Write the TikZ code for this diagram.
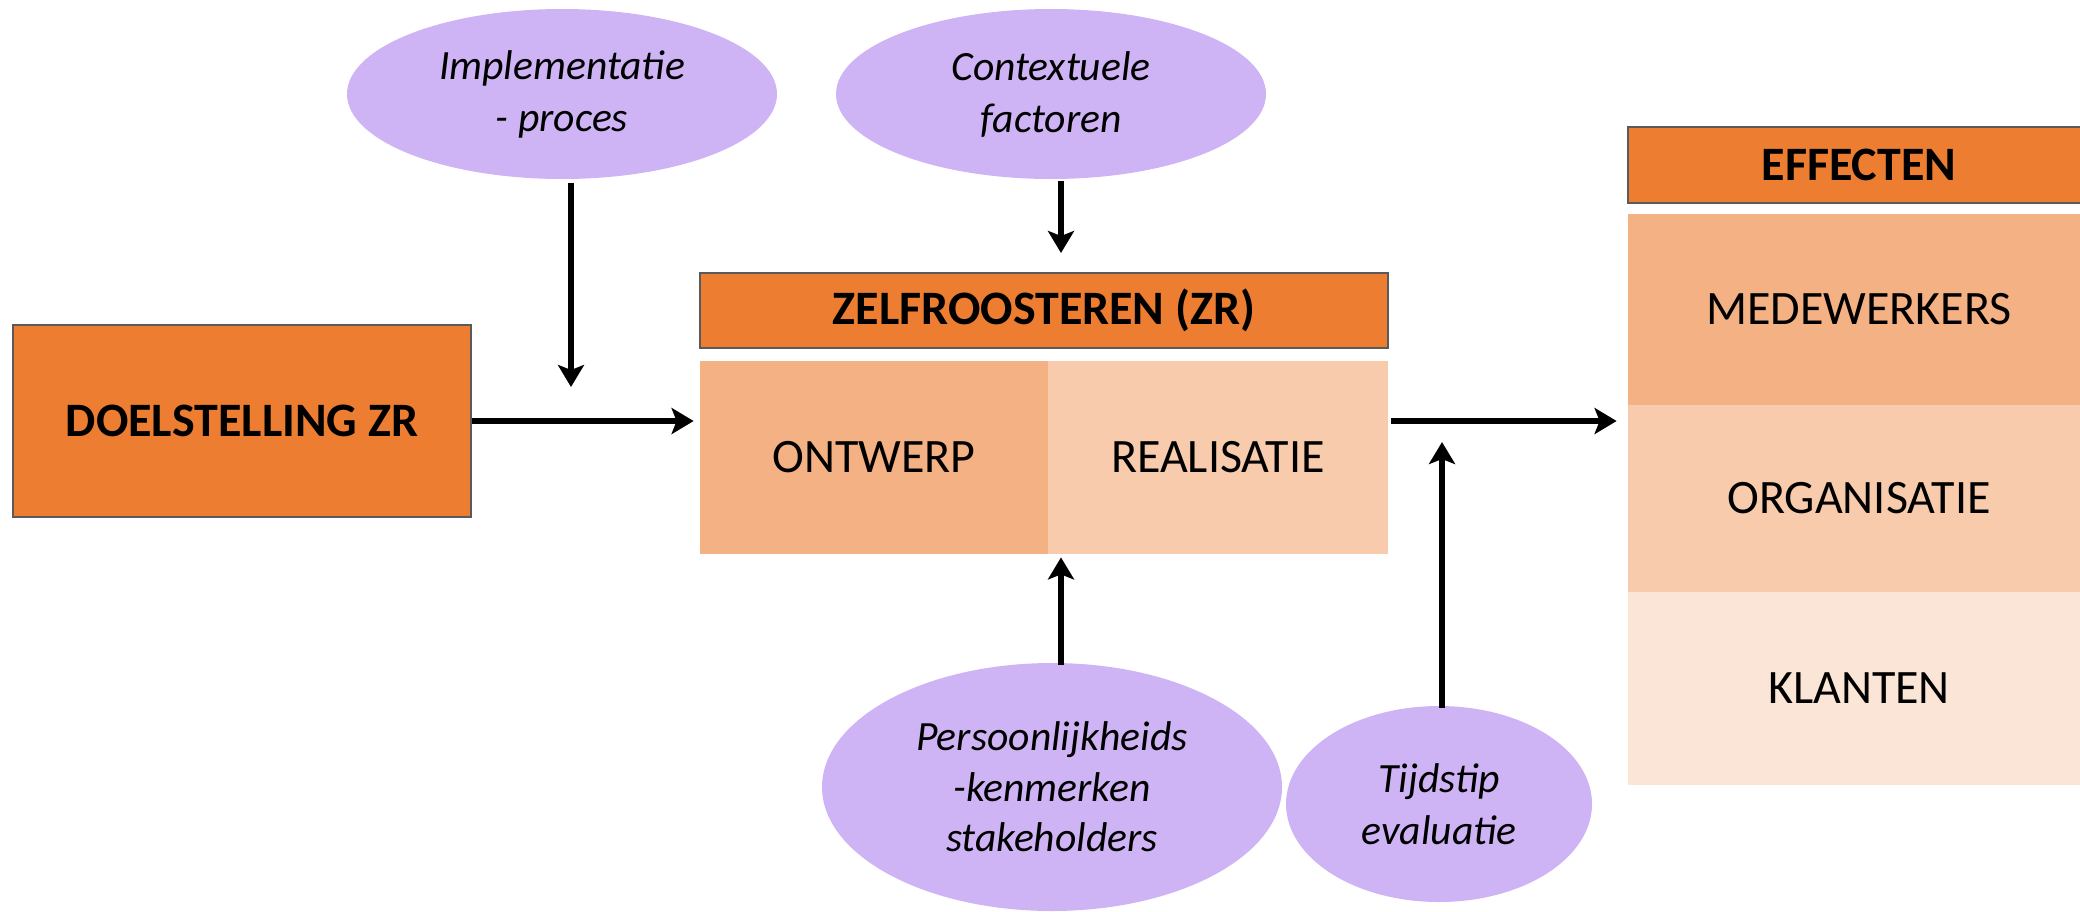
\documentclass[tikz,border=0pt]{standalone}
\usepackage{fontspec}
\setmainfont{Carlito}
\usetikzlibrary{arrows.meta,shapes.geometric,calc}
\definecolor{zrorange}{HTML}{ED7D31}
\definecolor{zrmid}{HTML}{F4B183}
\definecolor{zrlight}{HTML}{F8CBAD}
\definecolor{zrpale}{HTML}{FBE5D6}
\definecolor{factorfill}{HTML}{CFB4F5}
\definecolor{boxedge}{HTML}{5A5A5A}

\begin{document}
\begin{tikzpicture}[x=0.5pt,y=-0.5pt,
  headbox/.style={rectangle, fill=zrorange, draw=boxedge, line width=0.6pt,
    inner sep=0pt, font=\fontsize{24}{29}\selectfont\bfseries},
  cellbox/.style={rectangle, inner sep=0pt, font=\fontsize{24}{29}\selectfont},
  factorbox/.style={ellipse, fill=factorfill, inner sep=0pt, align=center,
    font=\fontsize{20.8}{26}\selectfont\itshape},
  link/.style={line width=3.3pt, -{Stealth[length=11pt,width=13pt,inset=2.5pt]}}]

\useasboundingbox (0,0) rectangle (2080,911);

% goal
\node[headbox, minimum width=229pt, minimum height=96pt] (doel) at (242,421) {DOELSTELLING ZR};

% self-rostering block
\node[headbox, minimum width=344pt, minimum height=37.5pt] (zr) at (1044,310.5) {ZELFROOSTEREN (ZR)};
\node[cellbox, fill=zrmid, minimum width=174pt, minimum height=96.5pt] (ontwerp) at (874,457.5) {ONTWERP};
\node[cellbox, fill=zrlight, minimum width=170pt, minimum height=96.5pt] (realisatie) at (1218,457.5) {REALISATIE};

% effects column
\node[headbox, minimum width=231pt, minimum height=38pt] (effecten) at (1859,165) {EFFECTEN};
\node[cellbox, fill=zrmid, minimum width=231pt, minimum height=95.5pt] (medewerkers) at (1859,309.5) {MEDEWERKERS};
\node[cellbox, fill=zrlight, minimum width=231pt, minimum height=93.5pt] (organisatie) at (1859,498.5) {ORGANISATIE};
\node[cellbox, fill=zrpale, minimum width=231pt, minimum height=96.5pt] (klanten) at (1859,688.5) {KLANTEN};

% influencing factors
\node[factorbox, minimum width=215pt, minimum height=85pt] (impl) at (562,94) {Implementatie\\- proces};
\node[factorbox, minimum width=215pt, minimum height=85pt] (context) at (1051,94) {Contextuele\\factoren};
\node[factorbox, minimum width=230pt, minimum height=124pt, font=\fontsize{20.8}{25.2}\selectfont\itshape] (pers) at (1052,787) {Persoonlijkheids\\-kenmerken\\stakeholders};
\node[factorbox, minimum width=153pt, minimum height=98pt] (tijd) at (1439,804) {Tijdstip\\evaluatie};

% connectors
\coordinate (implend) at (571,387);
\coordinate (ctxend) at (1061,253);
\coordinate (tijdend) at (1442,442);

\draw[link] (doel.east) -- ([xshift=-3pt]doel.east -| ontwerp.west);
\draw[link] ([xshift=1.5pt]doel.east -| realisatie.east) -- ([xshift=-5.5pt]doel.east -| medewerkers.west);
\draw[link] ([yshift=-2pt]impl.south -| implend) -- (implend);
\draw[link] ([yshift=-1pt]context.south -| ctxend) -- (ctxend);
\draw[link] ([xshift=4.5pt,yshift=-1pt]pers.north) -- ([xshift=4.5pt,yshift=-1.5pt]pers.north |- ontwerp.south);
\draw[link] ([yshift=-1pt]tijd.north -| tijdend) -- (tijdend);
\end{tikzpicture}
\end{document}
